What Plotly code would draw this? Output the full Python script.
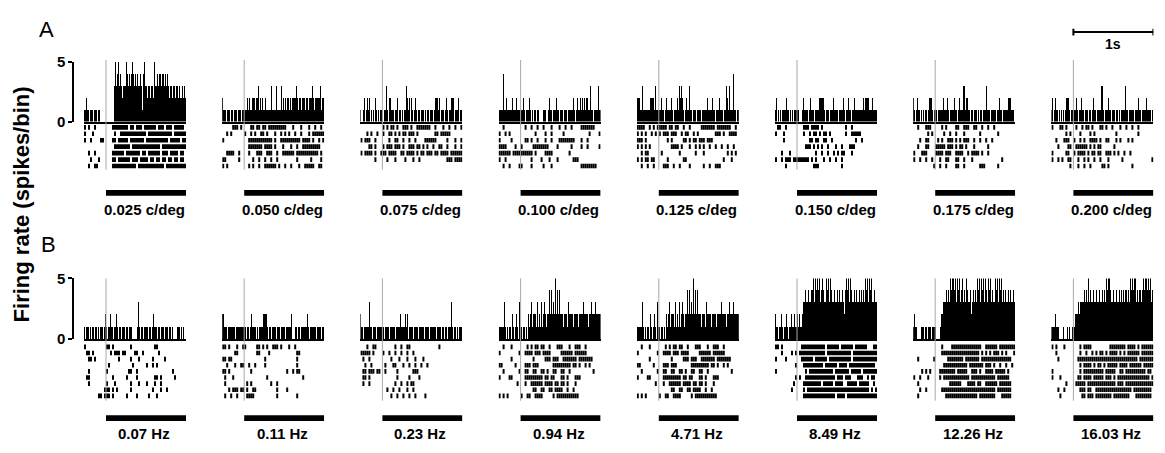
import plotly.graph_objects as go

# ---------------- data ----------------
T_START = -0.275      # s, start of each panel window
STIM_ON = 0.0         # s, stimulus onset
STIM_OFF = 1.0        # s, stimulus offset (end of window)
PSTH_BIN = 0.0125     # s
RASTER_BIN = 0.025    # s
SCALE_BAR_S = 1.0     # s
Y_TICKS = [0, 5]

labels_A = ["0.025 c/deg", "0.050 c/deg", "0.075 c/deg", "0.100 c/deg",
            "0.125 c/deg", "0.150 c/deg", "0.175 c/deg", "0.200 c/deg"]
labels_B = ["0.07 Hz", "0.11 Hz", "0.23 Hz", "0.94 Hz",
            "4.71 Hz", "8.49 Hz", "12.26 Hz", "16.03 Hz"]

# PSTH counts per bin: pre-stimulus bins / stimulus bins
psth_A = [
    "1121101110111011000000/" "00000000" "3534534323" "3354343454" "3434334314" "5332332332" "5334344344" "3434323323" "3233232232" "32",
    "2111011101101110111011/" "1112121122" "2122312121" "1211111311" "1131111312" "1212212122" "2232122122" "2122122232" "1222223122",
    "1001201212010102101011/" "1011310221" "1101120110" "1011321202" "1012101101" "1101011011" "1012221201" "1101210112" "2201112011",
    "1111411211111211121111/" "1121011121" "0101101100" "0011100121" "1011121101" "1101110111" "1121012112" "1212122113" "1101111311",
    "2221131111111222213111/" "1121101211" "1121011121" "3232101211" "3110111011" "1101111121" "1112110111" "2111011321" "3111411011",
    "1201010111121101010111/" "1100012111" "1012111011" "1122222101" "1101112111" "1011112101" "1211011211" "1111112122" "2211121111",
    "2101211010101101222101/" "1101111121" "1121011112" "1101211133" "1221101101" "1101011011" "1311101111" "1011211011" "1112221110",
    "1201211010101012221011/" "1112101121" "1011101101" "2110111133" "1011121101" "1101101011" "1131101111" "1011121101" "1112111101",
]
psth_B = [
    "1011101011011010111012/" "1011211011" "2101101110" "1101110000" "0131011011" "1101101211" "1011011101" "1101101000" "0111010100",
    "2211101111111011111111/" "1101101211" "1101011112" "2221011011" "1101110111" "1011111200" "0110110111" "1112101111" "1101111011",
    "2110111113110111011111/" "1101111011" "1110111121" "1112120111" "1011110111" "1101111011" "1111011110" "1101101113" "1011010111",
    "1111131010110210121031/" "1011010212" "3122213121" "3123212242" "4232524242" "2212221322" "2212222122" "2232222122" "3222322222",
    "1111131010110210121031/" "1011010212" "3122213121" "3123212242" "4232524242" "2212221322" "2212222122" "2232222122" "3222322222",
    "2110112101121011211211/" "2121123343" "3433445354" "5453454335" "4535433433" "4343343245" "4535433434" "3343434354" "5354533433",
    "1211000011101101110111/" "1000012233" "3434354554" "5354534534" "3543342343" "4354535453" "5435453433" "5453545343" "4334343343",
    "1111211100001000101001/" "1122232333" "3434353433" "4334334334" "3435455433" "4334334343" "4344343545" "4553434434" "5455454534",
]

# Spike rasters: one string per trial, '|' = spike in slot, pre-stimulus slots / stimulus slots
raster_A = [
    [
        "|.|..|...../" "...|||||||" "|.||.|||.|" "|||||.|||." "|||.|||||.",
        "|...|....../" "....|..|||" "||||||||||" ".|||||||||" "|||.||||||",
        "|..|....||./" "...||.||||" "|.|||||||." "||||||||||" "|.|||||.||",
        "............/" "....||||||" "||.|||||||" "|||||||.||" "||||||||||",
        "..|..|...../" "...||||||." "|||||||.||" ".||||||.||" "|.||||.||.",
        "...|...|.../" "...||.||||" "||.|||.|||" "|.||.||.||" ".||.||.||.",
        "..|..||..../" "...|||||||" "|||||.||||" "|||||||||." "||||||||||",
    ],
    [
        ".....|||.|./" "...||.||.|" "|.||||||||" "|...|...|." "..|..|..|.",
        "..|.|....../" "|..|.|..||" ".|...|..|." "|.|..|..|." "..|.||||||",
        "|........../" "..||||||||" "||||.|..||" "||||||||.|" "|||.|..|.|",
        "............/" "..|||||||." "||||.|...|" "...|..|..|" "||||||||..",
        "..||||..|../" "..|...|||." ".|||..|..|" "|||||.||||" "|||||||.|.",
        "||......|../" "....|..|.." "|..|..|..." "......|..." "...|....|.",
        "|.|......../" "..|.|..|.." "||||||.|.." "|..|...|.." "|||||..||.",
    ],
    [
        "............/" "|.|.||.|.." "|||.|..|||" "||||..|..." "|..|..|..|",
        "...|.|..|../" "|..||.|.|." "||.|||.|.." "......||.|" "||||......",
        "|.|||..|.../" "...|..||.." "|..|..|..." ".||||||..." "..|...|..|",
        "....||.|.../" "|.|||.|||." "|..|||.||." "|.|..|..||" "..|...|..|",
        "|.||||.|..|/" "||.||||..|" "|.||||.|.|" "|.|||.||.|" "|||.||||||",
        ".......|.../" "..|...|..." ".|...|..|." ".........." "..|||.||||",
        "............/" ".........." ".........." ".........." "..........",
    ],
    [
        "..|......../" "..|..|..|." ".|...|...|" "..|..|...." "|||||||...",
        "|..|.|...../" ".......|.." "..|..|...." ".|........" "....|....|",
        "|.....|..../" "..||.|..|." "..|..|...|" "|||||||..." "|..|......",
        "||||....|../" "|.....||||" "||||....|." ".....|...." "|..|.....|",
        "||||||.||||/" "||||||.|.." "..||||...." "....|....." "..........",
        "|..|......./" ".....|...." "|...|...|." "......|||." "..........",
        "..|..|....|/" "|....|...." ".|...|...." ".........." "||||||||..",
    ],
    [
        "||||..|.|.|/" "||||.||.||" "..|..|...." ".|||||||.|" "||||||..|.",
        "|.|.|..|.|./" "|.|||.|||." ".|.||..|.|" "........||" "|.|..||||.",
        "|||.|....../" "....|.|..." "..||.|.||." "|||.|||..." "..........",
        "|.|.|.|..../" "......||||" ".|...|..|." "|.|..|..|." ".|..|..|..",
        "..|.||...../" ".|........" "|.......|." "..|......." "....|.|.|.",
        "|.|.||.||../" "....|....." "..||......" ".........." "..|...|...",
        "..|..|..|../" "..|||..|.." "|....|...." "..|..|..||" "|.........",
    ],
    [
        ".||..|...../" "...|||.|||" "|.|......." "....|..|.." "..........",
        "|...|....../" "...|..|.||" ".|.||.|..." "....|..|||" "||........",
        "....|....../" "......||.|" "|..||..|.." ".........|" "..|.......",
        "............/" "....|||.|." "|.|..|...|" "..|...|||." "..........",
        "...|...|.../" ".........|" "..|..|..|." "|.||...|.." "..........",
        "|..|.|||.||/" "||||||.|.|" "...|..|..|" "..|......." "..........",
        ".....|...../" "........||" "|........." "..|......." "..........",
    ],
    [
        "..|...|||../" "...|.|...." "||..|||..|" "|..|..|..|" "..........",
        ".......|.|./" "....|..|.." "|...|....." "..|......." ".|........",
        "...|..||.../" ".|.|..|||." "|.|.|||..|" "..|..|..|." "..........",
        "..|...||.../" "|||||.|||." "|.||.|...|" "......|..." "..........",
        "|...|||..../" "||||.|||.." "||||..|.||" "||.|..|..." "..........",
        "|..|..|..|./" "..|..||..." "||..|...|." ".........." "...|......",
        "..........|/" "..|..|...." "||..|....." "..|||....." ".|........",
    ],
    [
        "|...||.|.../" ".|..|.||.|" "...||.|..|" "...|..|..|" "..|.......",
        ".......|.|./" "...|....|." "|........." ".|........" "..|.......",
        "..|...|||../" "|..|.|..||" "||.|..||.." ".|.|...|.|" "..........",
        "...|....||./" ".||||||.|." "|.||......" "|........." "..........",
        "|......||../" "|.||||.|.|" "|.||..|||." "|.|..|..|." "..........",
        "|..|.|..||./" "..|..|.|.." "|..|...|.." "....|....." ".........|",
        ".........|./" "..|..|..|." "....||.|.." ".........|" "..........",
    ],
]

raster_B = [
    [
        "|........../" "||.|......" "..|......." "....||...." "..........",
        ".||.|....../" "..|.|||.||" "....||..|." "......|..." "..........",
        "..||.|...../" "......|..." "..|...|..." "...|.....|" "..........",
        "............/" ".|........" "...|......" "|..|.|...." "..........",
        "..|......../" "|........." ".||..|...." ".........." "...|......",
        ".||......../" "...|......" "|....|...." "....||.|.." "....|.....",
        "..|......../" "|...|....." "..|...|..." "|...|..|.." "..........",
        "..........|/" "||.|.|...." "..|......." "...|...|.." "|.........",
        ".......||.|/" "||.|......" "|....|...." ".|...|...." "..........",
    ],
    [
        "||.|...|..|/" "|.....||.|" ".|..|||.|." "..|..|...." "..........",
        "......||.../" "......||.." "..|......." "......||.." "..........",
        "||.||....../" ".........." "|........." "......|..." "..........",
        "..|...|..||/" "..|..|...." "|........." "......|..." "..........",
        "||.|......./" "...|......" ".........." ".|..|.||.." "..........",
        ".|...|...../" ".........." ".|........" ".........|" "..........",
        ".|........./" ".|.|......" "...|..|..." ".........." "..........",
        "...|.|||.||/" ".|..||...." "......|..." ".|........" "..........",
        ".|..|..|.../" ".||||....." "......|..." "......|..." "..........",
    ],
    [
        "...|..||.../" "......|..|" "..||......" "........|." "..........",
        "|||||.|..../" "|..|..|..|" "..|..|...." ".........." "..........",
        ".|..|....../" "....|...|." "..|...|..." "|........." "..........",
        "..|..|...../" ".|...||..." "|..|..|..|" "..|......." "..........",
        ".||.|||.||./" ".|.....|.." ".....|||.." ".........." "..........",
        ".||.|....../" ".......|.." "...|....|." ".........." "..........",
        ".|..|....../" "......|..|" "..|.||...." ".........." "..........",
        "............/" "..|..|..|." "..|..|...." ".........." "..........",
        "............/" "....|..|.." "|..|..|..." ".|........" "..........",
    ],
    [
        "..|...|..../" "...|.|.||." "||..|...||" "|...|..|||" "..|.......",
        "|.........|/" "..||||.|||" ".||||....." "||||||.|||" "|||.......",
        "......|..../" "......|..." "..|||.|||." ".|||||||.|" "||||||....",
        "||......|../" "..|||.|||." "......||||" "|||||.||.|" "..|.|.....",
        "..|.......|/" "..||..||.." "||.|..||.." "||..|....." "......|...",
        "|....||..../" "..||||||||" "|.||.||..." "||.|...|||" "..........",
        ".........|./" "..|..|||||" "|.||||.||." "||.|...|.." "..........",
        "............/" "......||.." "||..||.|||" "|..|..|..." "..........",
        "|.|.|....../" "|..||..|||" "|.....|.||" "|||||||||." "..........",
    ],
    [
        "..|...|..../" "...|.|.||." "||..|...||" "|...|..|||" "..|.......",
        "|.........|/" "..||||.|||" ".||||....." "||||||.|||" "|||.......",
        "......|..../" "......|..." "..|||.|||." ".|||||||.|" "||||||....",
        "||......|../" "..|||.|||." "......||||" "|||||.||.|" "..|.|.....",
        "..|.......|/" "..||..||.." "||.|..||.." "||..|....." "......|...",
        "|....||..../" "..||||||||" "|.||.||..." "||.|...|||" "..........",
        ".........|./" "..|..|||||" "|.||||.||." "||.|...|.." "..........",
        "............/" "......||.." "||..||.|||" "|..|..|..." "..........",
        "|.|.|....../" "|..||..|||" "|.....|.||" "|||||||||." "..........",
    ],
    [
        "||.|......./" "..||||||||" "||||.|||||" "|.||||||.|" "|||||...||",
        "...|....|.|/" ".|||||||||" "||||.|||||" "|||||||.||" "||||||||||",
        "|....|...../" "..||||||.|" "|||||.||||" "|||||||.||" "||||||||||",
        "..........|/" "...|||||||" "|||.||||||" ".||||.||||" "|||||||||.",
        "|........../" "....|.||||" "||||||||.|" "||||||.|||" "||.|||||||",
        "..........|/" ".|..||||||" "|||||||||." "|||.|||..." "|||..|.||.",
        ".........|./" "...|||||||" "||.|||||.|" "|||..|||||" ".|||||..|.",
        "........|../" "...|.|||||" "||||||||||" "||||||||||" "||||||.|.|",
        "............/" "...|||||||" "|||||||||." "||||.|||||" "||||||||||",
    ],
    [
        "............/" "...|....||" "||||||||||" "|||..|||||" "|.||||||||",
        "............/" "...|||||||" "||||||||||" "||.|.|.|.|" "||.|.|...|",
        "..|.......|/" "......||||" "||||.|||||" "||.|||||||" "||||||||..",
        "............/" "....||||||" "||||||.|||" "||||.|||.|" "..|..|..|.",
        "....|.|.|../" "..||||||||" ".|||||..||" "|.|..||||." "|||||.|...",
        "|..|...|.../" "..|.||||||" "|||||||.||" "||||||||||" ".||||||...",
        "..|......../" ".......|||" "|||...||||" ".||..|||||" "|.||||||..",
        "...|..|..../" "...|||||||" "||||||||||" "||||||||||" ".|||||||..",
        "..|......../" ".....|||||" "||||||||||" "|.||||||||" "...|||||..",
    ],
    [
        "|.|...|..../" "...|.||||." "........||" "||||||.|||" "|.|.||||||",
        "..|......../" "...|..|..|" ".|.||.|.||" "||.|.|.|||" "|||.||||||",
        "...|......./" "..||||||||" "||||||||||" "||||||||||" "||.|||||||",
        "............/" "...|.||||." "|.||.|.|||" "||.||||.||" "||||.|||||",
        "|........../" "...|.|||||" "|||||.||||" "|..||.||||" "||||||.||.",
        "|...|....../" "..||.||||." "|||||.|||." "|.||||||||" "||||||||.|",
        ".......|.../" ".|||||.|||" "||||||||||" "|.|||.||||" "||||||||||",
        "...|..|..../" "...|||.||." ".|||||||||" "|||||||||." "|||||||||.",
        "....|....../" "....||.|||" ".||||||||." "||||||||.." ".||||||||.",
    ],
]

# ---------------- layout geometry (pixels) ----------------
W, H = 1165, 453
FONT = "Liberation Sans, Arial, Helvetica, sans-serif"


def px(x):
    return x / W


def py(y):
    return 1 - y / H


PANEL_X0 = 84.0
PANEL_STEP = 138.2
PANEL_W = 102.0
YAXIS_X = 73.0

rows = [
    dict(psth=psth_A, raster=raster_A, labels=labels_A,
         hist=(55.0, 117.0), rast=(119.6, 166.5), onset=(53.0, 167.0),
         bar=(188.0, 194.0), label_y=208.0, letter="A", letter_xy=(46.0, 21.0)),
    dict(psth=psth_B, raster=raster_B, labels=labels_B,
         hist=(280.0, 343.0), rast=(347.8, 405.2), onset=(280.0, 407.0),
         bar=(422.0, 428.0), label_y=441.0, letter="B", letter_xy=(48.0, 245.0)),
]

fig = go.Figure()
layout = {}
shapes = []
annotations = []


def parse_counts(s):
    pre, post = s.split("/")
    xs, ys = [], []
    for k, c in enumerate(pre):
        t = STIM_ON - (len(pre) - k - 0.5) * PSTH_BIN
        if t > T_START:
            xs.append(t)
            ys.append(int(c))
    for k, c in enumerate(post):
        t = STIM_ON + (k + 0.5) * PSTH_BIN
        if t < STIM_OFF:
            xs.append(t)
            ys.append(int(c))
    return xs, ys


def parse_raster(rows_str):
    xs, ys = [], []
    for r, s in enumerate(rows_str):
        pre, post = s.split("/")
        for k, c in enumerate(pre):
            t = STIM_ON - (len(pre) - k - 0.5) * RASTER_BIN
            if c == "|" and t > T_START:
                xs.append(t)
                ys.append(r)
        for k, c in enumerate(post):
            t = STIM_ON + (k + 0.5) * RASTER_BIN
            if c == "|" and t < STIM_OFF:
                xs.append(t)
                ys.append(r)
    return xs, ys


for ri, row in enumerate(rows):
    for p in range(8):
        idx = ri * 8 + p
        xn = idx + 1
        hy = 2 * idx + 1
        ry = 2 * idx + 2
        xname = "x" if xn == 1 else f"x{xn}"
        hname = "y" if hy == 1 else f"y{hy}"
        rname = f"y{ry}"
        xkey = "xaxis" if xn == 1 else f"xaxis{xn}"
        hkey = "yaxis" if hy == 1 else f"yaxis{hy}"
        rkey = f"yaxis{ry}"

        left = PANEL_X0 + PANEL_STEP * p
        layout[xkey] = dict(
            domain=[px(left), px(left + PANEL_W)], range=[T_START, STIM_OFF],
            anchor=hname, showline=True, linecolor="black", linewidth=2,
            showticklabels=False, ticks="", showgrid=False, zeroline=False,
            fixedrange=True,
        )
        htop, hbot = row["hist"]
        ydict = dict(domain=[py(hbot), py(htop)], range=[0, 5], showgrid=False,
                     zeroline=False, fixedrange=True)
        if p == 0:
            ydict.update(anchor="free", position=px(YAXIS_X), showline=True,
                         linecolor="black", linewidth=1.5, ticks="outside",
                         ticklen=4, tickwidth=1.5, tickcolor="black",
                         tickvals=Y_TICKS, ticktext=[str(v) for v in Y_TICKS],
                         tickfont=dict(family=FONT, size=15, color="black",
                                       weight="bold"))
        else:
            ydict.update(anchor=xname, visible=False)
        layout[hkey] = ydict

        rtop, rbot = row["rast"]
        nrows = len(row["raster"][p])
        layout[rkey] = dict(domain=[py(rbot), py(rtop)],
                            range=[nrows - 0.5, -0.5], anchor=xname,
                            visible=False, fixedrange=True)

        bx, by = parse_counts(row["psth"][p])
        fig.add_trace(go.Bar(x=bx, y=by, width=PSTH_BIN, xaxis=xname,
                             yaxis=hname, marker=dict(color="black",
                                                      line=dict(width=0)),
                             hoverinfo="skip"))
        sx, sy = parse_raster(row["raster"][p])
        fig.add_trace(go.Scatter(x=sx, y=sy, mode="markers", xaxis=xname,
                                 yaxis=rname, hoverinfo="skip",
                                 marker=dict(symbol="line-ns-open", size=3.3,
                                             color="black",
                                             line=dict(color="black",
                                                       width=2))))

        otop, obot = row["onset"]
        shapes.append(dict(type="line", xref=xname, yref="paper",
                           x0=STIM_ON, x1=STIM_ON, y0=py(obot), y1=py(otop),
                           line=dict(color="#a9a9a9", width=1), layer="above"))
        btop, bbot = row["bar"]
        shapes.append(dict(type="rect", xref=xname, yref="paper",
                           x0=STIM_ON, x1=STIM_OFF, y0=py(bbot), y1=py(btop),
                           fillcolor="black", line=dict(width=0)))
        annotations.append(dict(xref=xname, yref="paper",
                                x=(STIM_ON + STIM_OFF) / 2, y=py(row["label_y"]),
                                text=row["labels"][p], showarrow=False,
                                xanchor="center", yanchor="middle", xshift=-2,
                                font=dict(family=FONT, size=15, color="black",
                                          weight="bold")))

    lx, ly = row["letter_xy"]
    annotations.append(dict(xref="paper", yref="paper", x=px(lx), y=py(ly),
                            text=row["letter"], showarrow=False,
                            xanchor="center", yanchor="middle",
                            font=dict(family=FONT, size=22, color="black")))

# scale bar on the last panel of row A
sb_x = "x8"
shapes.append(dict(type="line", xref=sb_x, yref="paper", x0=STIM_ON,
                   x1=STIM_ON + SCALE_BAR_S, y0=py(24), y1=py(24),
                   line=dict(color="black", width=2)))
for xe in (STIM_ON, STIM_ON + SCALE_BAR_S):
    shapes.append(dict(type="line", xref=sb_x, yref="paper", x0=xe, x1=xe,
                       y0=py(27.5), y1=py(20.5),
                       line=dict(color="black", width=2)))
annotations.append(dict(xref=sb_x, yref="paper", x=STIM_ON + SCALE_BAR_S / 2,
                        y=py(36.5), text="1s", showarrow=False,
                        xanchor="center", yanchor="middle",
                        font=dict(family=FONT, size=14, color="black",
                                  weight="bold")))

annotations.append(dict(xref="paper", yref="paper", x=px(21), y=py(203),
                        text="Firing rate (spikes/bin)", textangle=-90,
                        showarrow=False, xanchor="center", yanchor="middle",
                        font=dict(family=FONT, size=22, color="black",
                                  weight="bold")))

fig.update_layout(
    width=W, height=H, margin=dict(l=0, r=0, t=0, b=0),
    paper_bgcolor="white", plot_bgcolor="white", showlegend=False,
    bargap=0, shapes=shapes, annotations=annotations, **layout,
)

fig.write_html("out.html")
